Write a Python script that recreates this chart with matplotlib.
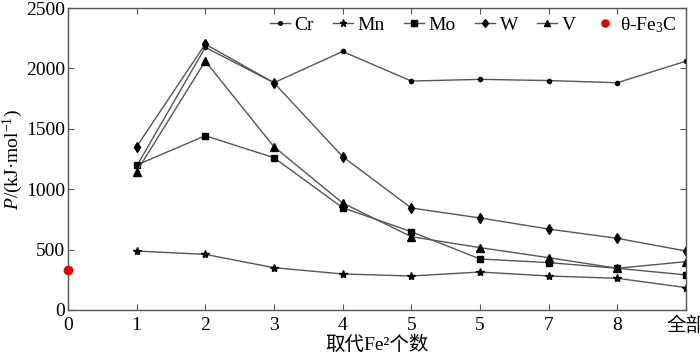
import matplotlib
matplotlib.use("Agg")
import matplotlib.pyplot as plt

plt.rcParams['font.family'] = ['Liberation Serif', 'Noto Sans CJK SC']
plt.rcParams['mathtext.fontset'] = 'custom'
plt.rcParams['mathtext.rm'] = 'Liberation Serif'
plt.rcParams['mathtext.it'] = 'Liberation Serif:italic'

x_pos = [1, 2, 3, 4, 5, 6, 7, 8, 9]
tick_pos = [0, 1, 2, 3, 4, 5, 6, 7, 8, 9]
tick_labels = ['0', '1', '2', '3', '4', '5', '5', '7', '8', '全部']

cr = [1190, 2175, 1882, 2141, 1896, 1910, 1900, 1882, 2061]
mn = [488, 460, 350, 298, 281, 314, 281, 262, 185]
mo = [1200, 1443, 1261, 847, 648, 422, 392, 345, 290]
w = [1352, 2202, 1882, 1270, 844, 762, 670, 593, 488]
v = [1145, 2061, 1352, 886, 607, 516, 433, 345, 400]
fe3c_x = [0]
fe3c_y = [330]

fig = plt.figure(figsize=(7, 3.53), dpi=100)
ax = fig.add_axes([0.097, 0.122, 0.883, 0.855])

lc = '#555555'
kw = dict(color=lc, lw=1.0, mfc='black', mec='black')
ax.plot(x_pos, cr, marker='o', ms=3, label='Cr', **kw)
ax.plot(x_pos, mn, marker='*', ms=6, label='Mn', **kw)
ax.plot(x_pos, mo, marker='s', ms=4.5, label='Mo', **kw)
ax.plot(x_pos, w, marker='d', ms=5, label='W', **kw)
ax.plot(x_pos, v, marker='^', ms=5.5, label='V', **kw)
ax.plot(fe3c_x, fe3c_y, linestyle='none', marker='o', ms=6, color='#e00000',
        label=r'θ-Fe$_3$C', clip_on=False, zorder=5)

ax.set_xlim(0, 9)
ax.set_ylim(0, 2500)
ax.set_xticks(tick_pos)
ax.set_xticklabels(tick_labels)
ax.set_yticks([0, 500, 1000, 1500, 2000, 2500])
ax.tick_params(direction='in', top=True, right=True, labelsize=14, length=4,
               color='#555555')
ax.tick_params(axis='x', pad=5)
ax.tick_params(axis='y', pad=2)
for s in ax.spines.values():
    s.set_color('#555555')
    s.set_linewidth(1.0)

ax.set_ylabel(r'$P$/(kJ·mol$^{-1}$)', fontsize=14, labelpad=1)
ax.set_xlabel('取代Fe²个数', fontsize=14, labelpad=0)

ax.legend(loc='upper right', ncol=6, frameon=False, fontsize=14,
          handlelength=1.0, handletextpad=0.25, columnspacing=1.0,
          borderaxespad=0.1, bbox_to_anchor=(1.0, 1.01), markerscale=0.85)

fig.savefig('out.png', dpi=100)
